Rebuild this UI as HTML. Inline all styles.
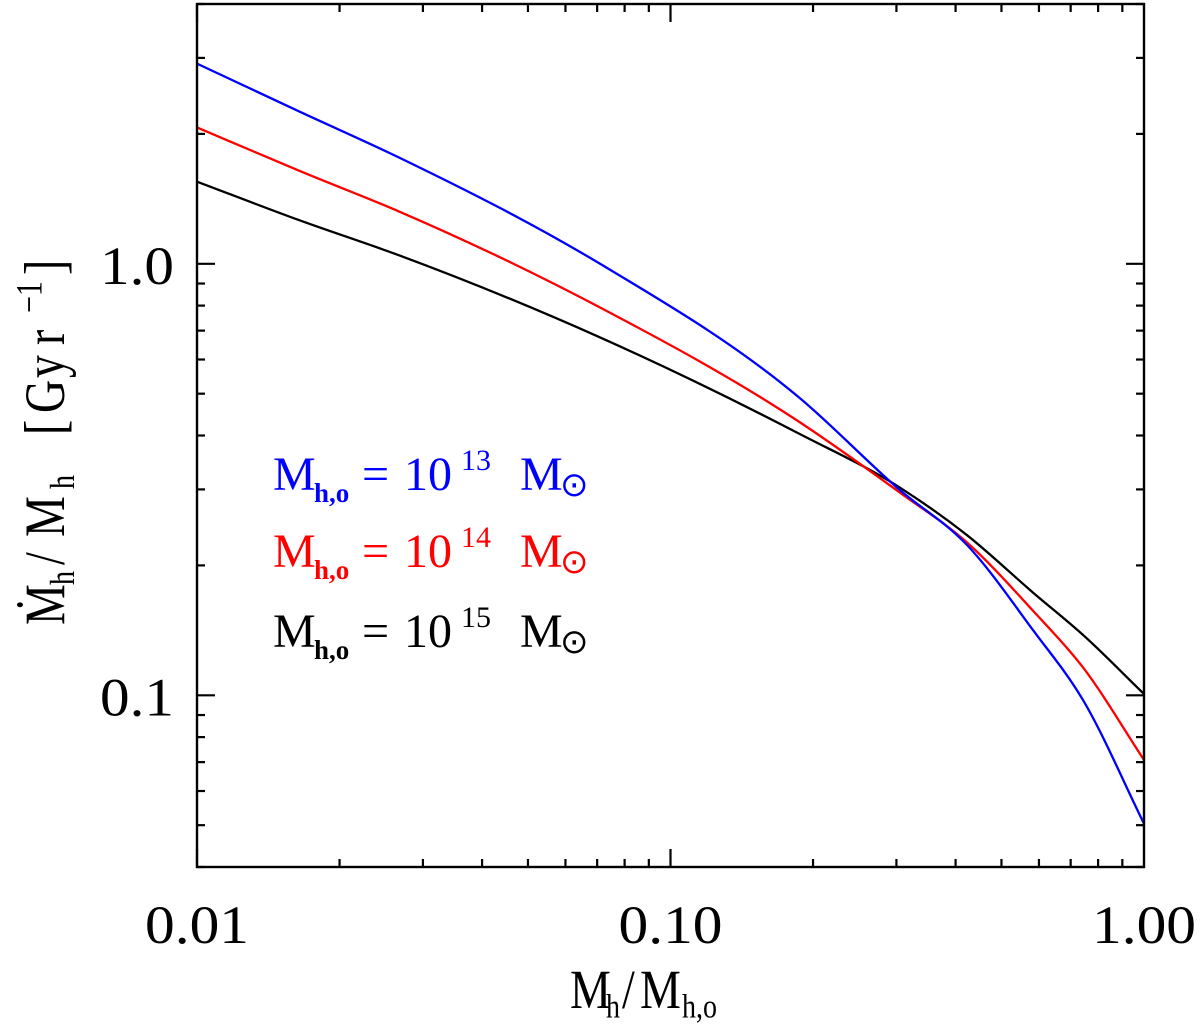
<!DOCTYPE html>
<html><head><meta charset="utf-8"><style>
html,body{margin:0;padding:0;background:#fff;}
svg{display:block;font-family:"Liberation Serif",serif;}
</style></head><body>
<svg id="chart" width="1200" height="1030" viewBox="0 0 1200 1030" xmlns="http://www.w3.org/2000/svg">
<g id="series"></g>
<g id="axes"></g>
<g id="legend" font-size="48">
  <text y="490" fill="#0000ff"><tspan x="273">M</tspan><tspan x="314" font-size="27" font-weight="bold" dy="12">h,o</tspan><tspan x="362" dy="-12">=</tspan><tspan x="404">10</tspan><tspan x="461" font-size="30" dy="-20">13</tspan><tspan x="520" dy="20">M</tspan><tspan x="560" font-size="34" dy="6">⊙</tspan></text>
  <text y="567" fill="#ff0000"><tspan x="273">M</tspan><tspan x="314" font-size="27" font-weight="bold" dy="12">h,o</tspan><tspan x="362" dy="-12">=</tspan><tspan x="404">10</tspan><tspan x="461" font-size="30" dy="-20">14</tspan><tspan x="520" dy="20">M</tspan><tspan x="560" font-size="34" dy="6">⊙</tspan></text>
  <text y="647" fill="#000000"><tspan x="273">M</tspan><tspan x="314" font-size="27" font-weight="bold" dy="12">h,o</tspan><tspan x="362" dy="-12">=</tspan><tspan x="404">10</tspan><tspan x="461" font-size="30" dy="-20">15</tspan><tspan x="520" dy="20">M</tspan><tspan x="560" font-size="34" dy="6">⊙</tspan></text>
</g>
<g transform="translate(0,1008) scale(1,1.2)">
<text y="0" font-size="46"><tspan x="570">M</tspan><tspan x="606" font-size="28" dy="8">h</tspan><tspan x="622" dy="-8">/</tspan><tspan x="640">M</tspan><tspan x="682" font-size="28" dy="8">h,o</tspan></text>
</g>
<g transform="translate(64,625) rotate(-90) scale(1,1.25)">
<text y="0" font-size="46"><tspan x="0">Ṁ</tspan><tspan x="40" font-size="28" dy="8">h</tspan><tspan x="60" dy="-8">/</tspan><tspan x="88">M</tspan><tspan x="136" font-size="28" dy="8">h</tspan><tspan x="190" dy="-8">[</tspan><tspan x="212">G</tspan><tspan x="247">y</tspan><tspan x="280">r</tspan><tspan x="312" font-size="30" dy="-18">−1</tspan><tspan x="350" dy="18">]</tspan></text>
</g>
</svg>
<script>
const xVals = [0.01, 0.0165, 0.0268, 0.071, 0.1877, 0.305, 0.4229, 0.5829, 0.7434, 1.0];
const yBlue = [2.91, 2.25, 1.76, 1.00, 0.488, 0.299, 0.223, 0.1416, 0.0975, 0.0504];
const yRed = [2.07, 1.64, 1.32, 0.792, 0.429, 0.295, 0.226, 0.157, 0.116, 0.0708];
const yBlack = [1.55, 1.26, 1.045, 0.675, 0.403, 0.303, 0.235, 0.173, 0.138, 0.1007];
const xTickVals = [0.01, 0.1, 1];
const xTickLabels = ["0.01", "0.10", "1.00"];
const yTickVals = [0.1, 1];
const yTickLabels = ["0.1", "1.0"];
const xMin = 0.01, xMax = 1, yMin = 0.04, yMax = 4;

const L = 197, R = 1144, T = 4, B = 867;
const NS = "http://www.w3.org/2000/svg";
function sx(v){ return L + (Math.log10(v) - Math.log10(xMin)) / (Math.log10(xMax) - Math.log10(xMin)) * (R - L); }
function sy(v){ return B - (Math.log10(v) - Math.log10(yMin)) / (Math.log10(yMax) - Math.log10(yMin)) * (B - T); }
function mk(tag, attrs, parent){ const e = document.createElementNS(NS, tag); for (const k in attrs) e.setAttribute(k, attrs[k]); parent.appendChild(e); return e; }

const sg = document.getElementById('series');
function curve(ys, color, name){
  const p = xVals.map((x,i)=>[sx(x), sy(ys[i])]);
  const n = p.length;
  const sec = [];
  for (let i=0;i<n-1;i++) sec.push((p[i+1][1]-p[i][1])/(p[i+1][0]-p[i][0]));
  const m = [];
  for (let i=0;i<n;i++){
    if (i===0) m.push(sec[0]);
    else if (i===n-1) m.push(sec[n-2]);
    else {
      const h0 = p[i][0]-p[i-1][0], h1 = p[i+1][0]-p[i][0];
      m.push((sec[i-1]*h1 + sec[i]*h0)/(h0+h1));
    }
  }
  let d = "M" + p[0][0].toFixed(2) + "," + p[0][1].toFixed(2);
  for (let i=0;i<n-1;i++){
    const h = p[i+1][0]-p[i][0];
    const c1x = p[i][0] + h/3, c1y = p[i][1] + m[i]*h/3;
    const c2x = p[i+1][0] - h/3, c2y = p[i+1][1] - m[i+1]*h/3;
    d += " C" + c1x.toFixed(2) + "," + c1y.toFixed(2) + " " + c2x.toFixed(2) + "," + c2y.toFixed(2) + " " + p[i+1][0].toFixed(2) + "," + p[i+1][1].toFixed(2);
  }
  const el = mk('path', {d:d, fill:'none', stroke:color, 'stroke-width':2.3}, sg);
  
  
}
curve(yBlack, '#000000', 'line-1e15');
curve(yRed, '#ff0000', 'line-1e14');
curve(yBlue, '#0000ff', 'line-1e13');

const ag = document.getElementById('axes');
const frame = mk('rect', {x:L, y:T, width:R-L, height:B-T, fill:'none', stroke:'#000', 'stroke-width':2.4}, ag);



for (let dec=-2; dec<0; dec++){
  for (let k=1; k<=9; k++){
    const v = k*Math.pow(10,dec);
    const x = sx(v), len = (k===1)?18:8;
    const t1 = mk('line', {x1:x, x2:x, y1:B, y2:B-len, stroke:'#000', 'stroke-width':2.2}, ag);
    
    
    const t2 = mk('line', {x1:x, x2:x, y1:T, y2:T+len, stroke:'#000', 'stroke-width':2.2}, ag);
    
    
  }
}
xTickVals.forEach((v,i)=>{
  const t = mk('text', {x:sx(v), y:943, 'font-size':54, 'text-anchor':'middle', textLength:104, lengthAdjust:'spacingAndGlyphs'}, ag);
  t.textContent = xTickLabels[i];
  
  
});
for (let dec=-2; dec<1; dec++){
  for (let k=1; k<=9; k++){
    const v = k*Math.pow(10,dec);
    if (v < yMin-1e-9 || v > yMax+1e-9) continue;
    const y = sy(v), len = (k===1)?18:8;
    const t1 = mk('line', {x1:L, x2:L+len, y1:y, y2:y, stroke:'#000', 'stroke-width':2.2}, ag);
    
    
    const t2 = mk('line', {x1:R, x2:R-len, y1:y, y2:y, stroke:'#000', 'stroke-width':2.2}, ag);
    
    
  }
}
yTickVals.forEach((v,i)=>{
  const t = mk('text', {x:174, y:sy(v)+20, 'font-size':54, 'text-anchor':'end', textLength:74, lengthAdjust:'spacingAndGlyphs'}, ag);
  t.textContent = yTickLabels[i];
  
  
});
</script>
</body></html>
